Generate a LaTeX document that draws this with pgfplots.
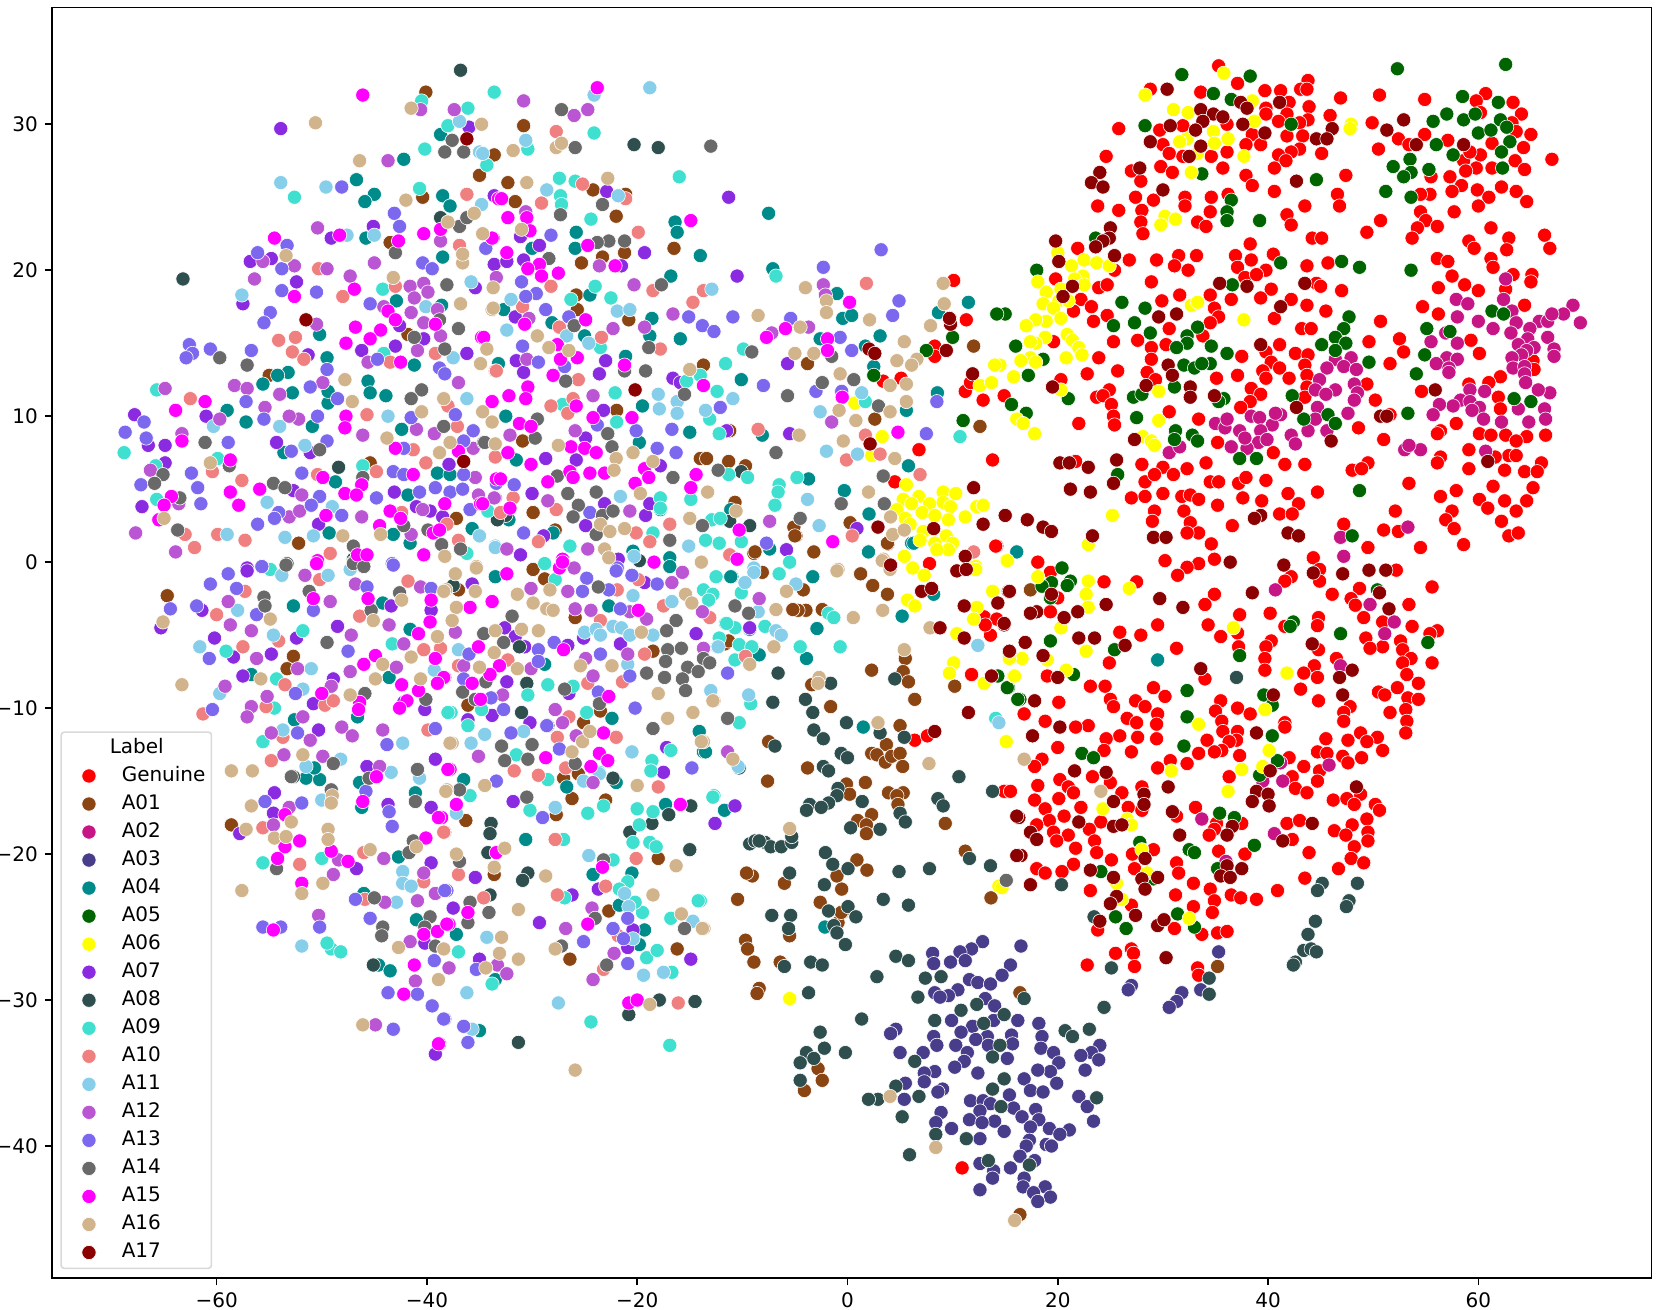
\documentclass[border=0pt]{standalone}
\usepackage{fontspec}
\setmainfont{DejaVu Sans}
\usepackage{pgfplots}
\pgfplotsset{compat=1.18}
\definecolor{cA01}{HTML}{8B4513}
\definecolor{cA02}{HTML}{C71585}
\definecolor{cA03}{HTML}{483D8B}
\definecolor{cA04}{HTML}{008B8B}
\definecolor{cA05}{HTML}{006400}
\definecolor{cA06}{HTML}{FFFF00}
\definecolor{cA07}{HTML}{8A2BE2}
\definecolor{cA08}{HTML}{2F4F4F}
\definecolor{cA09}{HTML}{40E0D0}
\definecolor{cA10}{HTML}{F08080}
\definecolor{cA11}{HTML}{87CEEB}
\definecolor{cA12}{HTML}{BA55D3}
\definecolor{cA13}{HTML}{7B68EE}
\definecolor{cA14}{HTML}{696969}
\definecolor{cA15}{HTML}{FF00FF}
\definecolor{cA16}{HTML}{D2B48C}
\definecolor{cA17}{HTML}{8B0000}
\pgfplotsset{pts/.style={only marks,mark=*,mark size=3.55pt,mark options={fill=#1,draw=white,line width=0.3pt,fill opacity=1,draw opacity=1}}}
\begin{document}
\begin{tikzpicture}
\path[use as bounding box] (-26pt,-15.7pt) rectangle (804.75pt,639.25pt);
\begin{axis}[scale only axis,width=800pt,height=635.5pt,
xmin=-75.66,xmax=76.47,ymin=-49.05,ymax=38,
axis line style={line width=0.8pt},
xtick={-60,-40,-20,0,20,40,60},xticklabels={−60,−40,−20,0,20,40,60},
ytick={-40,-30,-20,-10,0,10,20,30},yticklabels={−40,−30,−20,−10,0,10,20,30},
tick align=outside,tick pos=left,major tick length=3.5pt,tick style={line width=0.8pt,black},
tick label style={font=\fontsize{10}{12}\selectfont},
legend cell align=left,
legend style={at={(4.2pt,4.5pt)},anchor=south west,draw=black!15,line width=0.8pt,rounded corners=1.5pt,fill=white,fill opacity=0.8,text opacity=1,draw opacity=1,font=\fontsize{10}{12}\selectfont,inner xsep=3pt,inner ysep=3pt,row sep=4.22pt,nodes={inner sep=0pt,text height=7.6pt,text depth=2.2pt}},
legend image code/.code={\path (0pt,0pt) (26.5pt,0pt); \path[#1] plot coordinates {(10.5pt,0pt)};}
]
\addlegendimage{empty legend}\addlegendentry{\hspace*{-6pt}Label}
\addplot[pts=red] table {
x y
35.3 34
37.1 32.8
28.8 32.4
33.6 32.2
39.7 32.3
41.2 32.3
43.8 33
43.1 32.4
43.7 32.4
46.9 31.8
50.6 32
54.9 31.7
60.7 32.1
59.8 31.6
63.3 31.5
42 31.5
43.9 31.2
39.8 31.1
41.8 30.7
45.9 30.6
41 30.2
43.8 30.3
43 30.1
39.8 30.7
49.9 30.1
64.1 30.7
60.2 30.8
25.8 29.7
29.7 29.6
31.9 29.9
36.1 30
63.2 30.1
63.6 29.5
65 29.3
54.9 29.3
52.4 29
41.8 29.2
43.3 29.2
38.5 29.3
57.1 28.9
53.4 28.6
61.3 28.7
30 28.6
37.9 28.6
39.3 28.6
64.3 28.4
43 28.3
42.2 28.1
45.1 28
41 27.9
36.1 28.1
30.6 28
31.9 27.8
34.6 27.8
50.5 28.3
58.6 27.5
60.2 27.9
59.2 28.1
24.6 27.8
63.5 27.5
67 27.6
41.7 27.5
40.6 27
35.7 27
29.8 27.1
59.8 27
61.3 27
64.4 26.9
58.8 26.8
27 26.8
30.9 26.7
37.9 26.5
47.4 26.5
55.5 26.4
57.3 26.4
27.9 26.1
58.4 25.8
38.5 25.8
62.2 25.7
59.9 25.5
57.5 25.4
55.4 25.2
54.5 25.2
63.6 25.4
40.6 25.4
27.4 25
29.1 24.8
34.6 25
36.2 25.2
61 25
46.6 25.2
32.1 25
32.1 24.4
43.5 24.4
64.6 24.7
23.8 24.4
25.8 24.1
46.8 24.4
28 24.1
60 24.4
34.5 24
41.8 23.8
57.7 24
54.5 24
55 23.4
27.9 23.3
33.3 23.3
50.7 23.4
56.1 23
42.2 23.1
34.1 23
61.2 22.9
28.1 22.5
49.4 22.6
54.2 22.9
53.7 22.2
44.2 22.2
45.1 22.2
62.9 22.2
66.3 22.4
59.1 22
59.6 21.5
66.8 21.5
62.7 21.4
38.3 21.8
21.9 21.5
26.8 20.7
29.4 20.7
31.5 21
33.2 21
36.9 21
40.5 21.1
56.1 20.8
57.1 20.6
61.2 20.8
31.1 20.3
38.4 20.7
37.1 20.2
43.7 20.3
45.7 20.5
32.4 20
61.4 20.2
25.4 20
39.8 20
37.8 19.5
57.5 19.6
63.3 19.7
65.1 19.7
65 19.2
19.8 19.4
28.9 19.2
38.9 19.7
58.7 19
56.2 18.8
44.6 19.1
45 18.9
40.3 18.7
23.9 18.8
24.7 19
60 18.6
62.6 18.7
47 18.6
31.6 18.3
34.5 18.3
36.5 18
39.3 18.1
22.2 18
29.9 17.9
42.2 18
43.7 17.6
54.7 17.5
23.2 17.5
34.9 17.4
64.4 17.6
21.5 17.2
45.5 17.2
56.2 17
40.6 16.7
24.7 16.9
23.4 16.5
35.3 16.8
34.5 16.4
50.7 16.5
43.2 16
44.1 16
30.6 16
19.6 15.1
25.3 15.1
27.6 15.2
52.5 15.3
49.6 15.1
59.3 15.2
28.9 14.7
30.3 14.9
33.8 15.5
41.1 14.9
39.8 14.4
42.6 14.3
43.8 14.2
52.9 14.4
37.5 14.1
60.1 14.3
28.9 13.9
23.9 14
40.3 13.7
43.5 13.5
51.6 13.6
41.1 13.3
65.2 13.8
39.5 13.1
43.7 12.8
65.3 13.2
28.5 13
22.8 12.9
25.7 13.1
37.1 12.8
35.1 12.6
39.8 12.6
42 12.6
62.1 12.7
20.3 12.5
61 12.3
29.3 12.5
43.7 12
49.4 12.2
38.4 11.9
24.9 11.8
59.1 12.2
54.6 11.7
14.9 11.4
39.3 11.5
61.9 11.3
23.7 11.3
24.3 11.4
50.2 11.1
38.3 11
43.5 11.3
25.1 10.8
62.1 10.5
37.4 10.6
30.6 10.3
51.6 10.1
33.4 9.8
25.3 10
25.4 9.4
22 9.5
48.6 9.2
57.9 9.5
56.4 9
60.1 8.8
61.2 8.7
62.6 8.7
66.4 8.7
64.6 8.6
56.1 8.8
51 8.4
63.6 8.3
59.1 7.7
35.2 8.2
40.5 7.5
56.4 7.2
62.9 7.3
63.6 7.3
56.1 6.8
61.6 7.2
66 6.8
28 6.7
34.1 6.8
41.6 6.7
43.5 6.7
21.7 6.9
30 6.5
32.3 6.4
49.5 6.8
59.1 6.4
62.5 6.3
64.4 6.2
65.6 6.2
48 6.3
48.9 6.4
31 6
28.3 5.5
29.2 6
34.5 5.5
35.3 5.5
37.2 5.4
37.9 5.8
39.8 5.6
53.4 5.4
61.4 5.2
44.7 4.8
57.9 4.9
65.2 5.1
27 4.4
28.3 4.5
30 4.7
31.8 4.5
32.6 4.6
41.9 4.7
56.4 4.5
33.4 4.3
37.6 4.4
60.1 4.3
62.5 4.2
42.9 4
64.6 4.2
39.4 4.2
35.2 3.9
32 3.5
29.2 3.5
57.5 3.5
63.6 3.5
52.1 3.5
41.1 3.3
42.3 3.3
60.9 3.7
29 2.8
36.6 2.5
56.9 2.9
62.2 2.8
32.6 2.7
47.2 2.6
57.7 2.3
51 2.2
52.4 2.1
33.4 2
32.3 2
62.9 1.8
63.8 2
49.5 1
54.5 1
58.6 1.2
34.6 1.25
18.1 0
30.2 .1
34.9 .2
33.4 -.1
32.3 -.35
31.4 -.9
44.3 .3
44.9 -.5
52.2 -.55
42.2 -1
44.9 -1.3
27.5 -1.35
24.4 -1.35
19.3 -.7
41.6 -1.3
55.6 -1.7
48.7 -1.8
46.1 -2.2
34.9 -2.2
20 -2.45
47.9 -2.5
48.3 -2.95
53.4 -2.9
34 -2.9
37.3 -3.6
40.2 -3.5
19.3 -3.4
44.8 -3.8
49.1 -3.8
50.9 -4.1
44.7 -4.35
34.3 -4.3
29.5 -4.3
53.7 -4.4
56.1 -4.7
55.4 -4.9
25.9 -4.8
27.9 -5
37.1 -4.85
41.6 -4.4
35.5 -5.1
49.3 -5.2
52.6 -5.4
40.3 -5.4
39.8 -5.8
50.9 -5.8
52.8 -6
49.7 -5.9
37.2 -5.8
44.8 -6
31.3 -5.9
39.7 -6.6
53.6 -6.6
46.5 -6.6
24.9 -6.9
52.8 -6.9
55.6 -6.9
39.7 -7.4
44.4 -7.1
43.4 -7.6
53.2 -7.7
44.7 -7.9
19 -7.8
34 -8
54.3 -8.3
23.1 -8.5
24.5 -8.5
29.1 -8.6
43.1 -8.7
52.3 -8.6
50.5 -8.9
30.2 -9.2
51.1 -9.1
53.3 -9.3
54.3 -9.4
25 -9.4
44.8 -9.5
20.1 -9.6
35.5 -9.5
27.4 -9.5
37.1 -10
28.3 -9.9
25.3 -9.9
47.8 -9.9
35 -10.2
53.1 -10.1
51.6 -10.3
38.3 -10.4
47.2 -10.3
16.8 -10.4
29.5 -10.4
26.6 -10.7
35.6 -10.9
18.8 -10.9
47.2 -10.9
41.6 -11
53.2 -10.9
27.5 -11
29.4 -11.1
22.9 -11.2
21.7 -11.3
41.6 -11.3
35.7 -11.6
37.1 -11.6
53.1 -11.7
25.9 -11.9
27.6 -12
29.4 -12.1
45.5 -12.1
48.8 -11.7
50.4 -12
34.2 -12.2
37 -12.2
36.3 -12.3
24.6 -12.1
49.4 -12.3
47.6 -12.2
20 -12.7
24.4 -12.9
27 -13
33.4 -13.1
35.6 -12.9
34.9 -13
50.9 -12.9
44.7 -13
45.6 -13.1
37.3 -13.25
47.1 -13.3
48.9 -13.4
18.5 -13.5
42 -13.4
47.6 -13.75
30.7 -13.6
32.3 -13.8
17.8 -14
29.5 -14.1
43.4 -14
44.9 -14.3
36.3 -14.7
23.3 -14.7
20.2 -14.9
25 -15.1
42.3 -14.7
44.7 -15
18.1 -15.3
28 -15.4
21 -15.4
42.6 -15.5
15.1 -15.7
21.5 -15.8
26.1 -15.8
43.7 -15.8
20.1 -16.2
17.8 -16.3
46.2 -16.3
47.5 -16.2
48.8 -15.9
48.2 -16.6
26.7 -16.8
50.2 -16.6
18.8 -16.9
33.1 -16.8
22.2 -16.8
50.6 -17
28 -17
20.6 -17.4
49.4 -17.6
31.3 -17.4
19.2 -17.7
24.1 -17.8
37.5 -17.9
41.8 -17.9
43 -17.7
18 -18
35.1 -17.9
48 -18
23 -18.3
19.6 -18.5
46.3 -18.4
49.5 -18.5
34.9 -18.3
21 -18.7
47.4 -18.7
34.4 -18.7
42.3 -19
19.9 -19.1
23.5 -19.1
49.5 -19.1
48.2 -19.5
21.7 -19.6
29.1 -19.7
23.7 -19.9
43.9 -19.9
35.3 -19.8
37.8 -20
27.1 -20
25.1 -20.4
47.9 -20.3
31.3 -20.6
21.5 -20.7
49.1 -20.6
27.3 -21
18 -21
20.4 -21.2
18.8 -21.3
31.5 -21.3
46.7 -21
43.5 -21.65
32.9 -22
34.5 -22.4
23.1 -22.5
40.9 -22.5
36.5 -22.8
31.2 -22.8
37.4 -23
38.9 -23.1
34.9 -23.2
32.9 -23.6
27 -23.5
34.7 -24
31.1 -25.1
23.8 -25.2
33.7 -25.5
35.2 -25.4
36.1 -25.3
27 -26.5
25.5 -26.8
27.2 -26.8
27.3 -27.7
22.8 -27.6
33.3 -27.8
33.4 -28.3
14.2 1.1
11.8 -7.7
6.4 -12.2
7.6 -11.9
14.9 -15.7
15.5 -15.7
6.8 7.7
13.8 7
4.5 5.5
12.9 11.1
11.2 11.7
11.7 12.3
8.3 14.8
8.3 14.1
5.1 12.6
3.4 12.4
10.1 19.3
9.75 16.7
11.3 16.6
14.1 1.1
7.8 -.1
13 -3.75
13.6 -5
14.2 -3.9
13.1 -4.3
10.9 -41.5
};\addlegendentry{Genuine}
\addplot[pts=cA01] table {
x y
-3.2 .7
-8.9 .6
-4.9 1.8
-8.1 -.7
-4.2 -1.9
1.25 -.8
2.4 -1.6
3.8 -2.2
3.85 1.25
-3.95 -3.3
-4.7 -3.3
-5.2 -3.25
-2.4 -3.25
10.2 -8.5
5.5 -6.6
2.3 -7.4
5.3 -7.5
5.8 -8.2
6.4 -9.4
-3.4 -8.4
-1.6 -9.9
-11.65 -5.6
-11.3 -5.4
5 -11.2
3.7 -12.5
2.3 -13.1
2.8 -13.2
3.6 -13.7
4.2 -13.3
5 -13.1
5.25 -14
-7.5 -12.3
-3.8 -14.1
-7.6 -15
1.7 -15.1
-.1 -15.2
.2 -15.9
3.9 -15.8
5.3 -15.8
4.7 -16
4.8 -16.6
2.3 -17.3
.97 -17.7
1.8 -18
1.8 -18.6
9.3 -17.9
11.2 -19.8
.9 -20.4
1.85 -21.1
-9.05 -21.5
-9.6 -21.3
-6 -22
-1 -21.5
-.55 -22.4
-2.6 -23.3
-.5 -24
-10.45 -23.1
13.65 -23
-.9 -24.7
-9.7 -25.9
-9.5 -26.5
-8.9 -27.4
-6.4 -27.4
-8.4 -29.2
-8.6 -29.55
-5.5 -25.6
16.4 -29.5
-2.8 -34.7
-2.4 -35.5
-4.1 -36.2
-.6 -24
16.4 -44.7
35.2 -27.7
17.4 -1.9
-64.7 -2.3
-58.6 -18
-52.7 -6.45
-53.3 -7.3
-40.1 32.2
-40.4 25
-35 26.5
-33.6 27.9
-52.2 1.3
-37.2 3
-55 12.8
-43.5 21.9
-41.8 15.6
-45.4 6.8
-30.8 29.9
-32.3 26
-31.6 24.7
-24.2 25.5
-22 23.7
-21.1 25.2
-16.5 21.5
-25.3 20.5
-23.3 20.9
-21.2 21.2
-25.8 18.3
-25.7 17.3
-20.8 16.6
12 14.8
12.6 9.3
-13.7 13.5
-8.8 .7
-5.1 2.4
-5 1.8
-11.2 9
-10.7 4.1
-14 7.1
-13.4 7.1
-11.3 6.9
-9.7 6.6
2.6 9.8
3.8 1.3
.25 2.7
-3.8 13.6
-29.9 3.4
-27.8 2.2
-21.95 10.4
-30.9 8.3
-25.9 -3.8
-29.9 -.5
-28.8 -1.15
-37 -1.9
-18.5 -6.1
-23.5 -10.2
-36.1 -9.8
-25.1 -11
-27 -14.8
-25.6 -14.5
-26.2 -16.2
-23 -16.3
-27.7 -17.3
-36.3 -17.7
-22.7 -23.9
-26.4 -27.2
-16.2 -26.5
-18 -20.3
-33.6 -21.4
};\addlegendentry{A01}
\addplot[pts=cA02] table {
x y
62.6 19.4
57.9 18
59 17.7
62.4 18
58 16.8
60 16.5
63.2 17.2
63.6 16.4
65.8 16.5
66.6 16.5
69 17.6
68.1 17
69.7 16.4
67 17
61.4 16
63.1 15.7
64.9 16
66.6 15.4
64.7 15.3
56.9 15.7
55.5 15.1
58 15
63.8 14.9
65.3 14.7
64.6 14.5
67.2 14.6
64.1 14.2
67.2 14.1
63.2 14
57 14
56 13.6
58 13.9
57.2 13.3
57.2 13
63.3 13.3
64.4 13.4
64.4 12.9
64.5 12.3
59.2 11.8
60.6 11.7
66.8 11.6
65.7 11.8
58.3 11.1
59.2 11
60.1 10.6
57.6 10.7
56.3 10.8
55.7 10.1
59.4 10.4
60.5 9.8
63.8 10.5
66.3 10.5
62.2 9.6
64.8 9.6
66.4 9.8
60.7 7.6
47.9 14
46.4 13.9
45.6 13.3
47.2 13.4
48.4 13.2
44.9 12.5
48.2 12.2
44.5 11.8
46.4 11.8
45.5 11.5
48.5 11.6
48.2 11.1
44.7 10.6
47.6 10.2
44.5 9.8
45.6 9
35 9.5
35.9 9.2
37.3 9
36.1 9.8
38.4 10
39.2 9.9
41.2 10.1
40.4 9.4
39.3 9
42.2 8.7
43.8 9
42.6 8.1
40.7 10.2
39.1 8.2
38 7.8
36.5 7.9
37.8 8.5
39.9 8.4
30.6 7.5
31.6 7.9
53 7.7
54.5 7.7
53.4 8
53.3 2.4
46.9 1.7
46.9 1.7
47.2 .4
40.7 -1.9
49.7 -2.9
52 -4.1
51.1 -4.9
46.9 -7.1
45.8 -13.9
41.2 -13.75
41.4 -15
39.5 -15
33.7 -17.6
40.6 -18.6
36 -20.5
};\addlegendentry{A02}
\addplot[pts=cA03] table {
x y
12.85 -26
16.5 -26.3
11.8 -26.5
10.7 -26.7
8.1 -26.8
8.2 -27.5
9.8 -27.4
11.2 -27.3
15.5 -27.6
14.7 -28.3
11.6 -28.6
12.4 -28.8
13.6 -28.9
10.5 -29.3
9.6 -29.7
8.3 -29.5
8.8 -29.8
13.1 -29.9
14 -30.4
9.9 -31.4
16.2 -31.4
13.9 -31.4
11.9 -31.8
18.2 -31.6
4.6 -32
4.1 -32.3
10.8 -32.2
8.2 -32.5
15.6 -32.4
13.3 -32.5
18.5 -32.5
12.2 -32.7
10.3 -33.1
8.5 -33.1
15.7 -33
13.4 -33.1
24 -33.1
18.4 -33.3
5 -33.6
7.2 -33.6
11.4 -33.6
19.6 -33.6
23.2 -33.6
22.2 -33.8
11.1 -34.2
15.2 -34
23.9 -34.1
20.1 -34.3
10.2 -34.6
8.3 -34.9
12.4 -35
19.3 -34.9
18.1 -34.8
22.6 -34.8
7.3 -35
16.8 -35.4
7.3 -35.6
5.5 -35.7
19.9 -35.7
17.4 -36.2
18.6 -36.3
9.05 -36.1
8.6 -36.3
15.4 -36.5
5.4 -36.8
22 -36.6
11.7 -36.9
12.9 -36.9
13.6 -37.1
22.8 -37.3
15.8 -37.4
12.6 -37.6
17.9 -37.5
8.9 -37.7
16.6 -38
11.6 -38.2
14 -38.3
12.8 -38.4
8.4 -38.4
23.4 -38.3
18.2 -38.2
9.9 -38.8
17.4 -38.7
19.2 -38.8
21.1 -38.9
20.2 -39.2
14.9 -39
12.6 -39.5
17.3 -39.6
18.9 -39.9
19.4 -40
17 -40
16.4 -40.7
17.8 -41
12.6 -41.2
15.5 -41.5
13.9 -41.7
13.8 -42.2
16.8 -42.2
16.7 -42.8
12.6 -43
18.8 -42.8
17.7 -43.2
19.3 -43.5
18.1 -43.8
27 -29
26.7 -29.3
31.8 -29.5
31.3 -30.1
30.6 -30.5
33.6 -29.3
35.3 -26.7
};\addlegendentry{A03}
\addplot[pts=cA04] table {
x y
-42.2 27.6
-46.7 26.2
-45 25.2
-45.9 24.7
-38.7 29.3
-38.5 25.1
-37.8 24.4
-38.5 20.9
-45.8 22.2
-42.9 17.9
-38.6 17.6
-50.2 15.6
-49.5 14
-41.2 13.5
-53.2 13
-54.2 12.8
-55.6 12.2
-45.6 12.4
-45.4 11.6
-43.9 11.4
-52.8 11.6
-49.4 10.9
-49.4 11.7
-59 10.4
-57.2 9.6
-50.9 9.3
-42.4 9.1
-53.6 7.5
-39 6.1
-37.8 6
-48.7 5.5
-41.8 4.6
-43.2 1.9
-49.3 2
-41.6 1.3
-35.7 2.3
-16.4 23.3
-16.2 22.6
-14 21
-16.8 19.6
-7.5 23.9
-25.8 22.6
-25.9 21.5
-30 21.5
-24.5 18.3
-32.7 17.3
-18.6 16.7
-18.8 15.5
-15.9 15.3
-28.1 16.4
-25 15.5
-21.1 14.1
-33.2 13.6
-10.1 12.5
-7.1 20.1
-1 18.4
-.45 16.7
.4 16.9
3.1 15.5
1.7 14.8
-2.6 15.3
8.65 17.1
11.5 17.8
2.5 13.4
8.55 11.6
5.6 10.4
-19.5 10.7
-32.5 10
-15 8.9
-19.8 8.2
-8.1 8.7
-31.5 7
5.8 6.6
-3.7 5.7
-.3 4.9
-28 2
-32.2 2.9
2.05 3.3
2 .7
-16.9 .3
-11.1 3.6
-17.8 3.6
6.1 1.3
-20.4 .75
-33.5 -1
-22.7 -3
-16.9 -.3
-11 -1
-9.3 -4.6
-28.8 -7
-26.7 -15.4
-22 -15.1
-36.5 -14.9
-22.4 -10.7
-13.7 -13
-14.1 -11.6
-17.3 -16.6
-30.6 -19
-24.2 -21.4
-21.7 -23.5
-37.2 -25.5
-20.5 -21.3
-19.8 -26.2
-19.3 -25.2
-33.5 -28.6
-35 -32.1
-11.7 -17
-52.7 -3
-41.6 -4.6
-43.6 -7.9
-44.2 -2.8
-46.6 -10.6
-52.6 -10.8
-56.7 -7.7
-51.5 -14.8
-50.2 -14.9
-50.7 -14.1
-41 -24.5
-44.6 -27.6
-43.5 -28
-46 -22.7
-41.1 -15.8
-42.7 -20.2
-46.4 -15.1
-46.2 -16.8
2 .7
5.2 -3.7
8.2 -2.2
-2.9 -4.55
-3.9 -6.6
-8.4 -6.35
-3.3 -1
-11.1 -1
-7.4 .9
1.5 -11.3
-2.15 -25
-13.5 -13
6.3 1.3
16.1 .7
29.5 -6.7
};\addlegendentry{A04}
\addplot[pts=cA05] table {
x y
31.8 33.4
38.3 33.3
52.3 33.8
62.6 34.1
34.8 32.1
36.5 31.7
28.3 29.9
42.2 30
58.5 31.9
61.9 31.5
57 30.7
55.7 30.2
58.6 30.3
59.7 30.7
60 29.4
61.2 29.6
62.1 30.3
62.7 29.8
63 28.8
62.2 28.1
62.3 27
57.6 27.9
56 28.6
53.5 27.6
51.9 27.1
53.6 26.7
55.3 26.9
52.9 26.4
33.7 26.6
44.6 26.2
51.2 25.4
53.6 25
36.5 24.8
36.1 24
36.1 23.4
39.2 23.4
23.6 22.2
18 20
41.2 20.5
47 20.6
48.7 20.2
53.6 20
36.6 19
26.1 17.8
28.3 17.4
15 17
25.3 16.2
27.3 16.4
33.3 16.1
28.8 15.7
32.3 15.5
32.3 15
31.3 14.7
34.6 14.8
36.1 14.3
47.7 16.8
47.2 16
46.4 15.4
47.4 15
45.1 14.9
46.4 14.5
49.6 13.7
61.3 17.2
62.4 17
55.1 16
57.3 15.8
54.9 14.2
54.1 12.9
16 14.8
18.6 13.9
17.2 12.8
32 13.5
33 13.3
34.5 13.6
33.7 13.6
31.1 12
27.2 11.3
28 11.5
21 11.2
15.6 10.8
17 10.2
42.3 11.4
35.8 11.2
35.3 11
27.5 9.9
63.4 11.2
65 11
53.3 10.2
45.7 10.1
43.4 9.8
46.4 9.5
31.2 9
32.8 8.7
33.3 8.3
31.1 8.4
37.3 7.1
38.9 7.1
25.7 6
48.7 4.9
48 1.8
20.4 -.4
19.4 -1.4
21.2 -1.3
20.9 -1.6
19.3 -2.45
18.5 -1.65
42.4 -4.1
42.1 -4.4
46.9 -4.9
50.4 -1.9
55.2 -5.5
19.3 -5.4
25.4 -6
37.3 -6.4
21.5 -7.7
15.3 -8.6
16.4 -9.4
32.3 -8.8
39.6 -9.1
40.4 -9.8
32.3 -10.6
32 -12.6
40.4 -11.9
22.3 -13.1
23.4 -13.4
40.9 -13.6
39.2 -14.6
35.4 -17.2
36.8 -17.5
38.7 -19.4
32.5 -19.7
33 -19.9
27.8 -19.2
35.2 -21
24.1 -21.2
29.1 -21.7
25.5 -24.3
26.5 -25.1
31.4 -24.1
33 -25
10 15.4
7.5 14.5
11 9.7
2.5 12.8
14.2 17
15.2 -8.6
16.2 -9.4
14.3 -7.8
};\addlegendentry{A05}
\addplot[pts=cA06] table {
x y
35.8 33.5
28.3 32
31 31
32.4 30.8
38.5 31.6
38.7 30.2
47.9 30
47.8 29.7
34.8 29.5
32.3 29
31.6 28.8
34.9 28.7
36.2 29
33.3 28
37.7 27.8
32.7 26.7
30.2 23.7
31.2 23.5
29.8 23.1
20 21.2
22.5 20.7
21.3 20.3
23.7 20.5
24.9 20.3
22.4 19.6
21.6 19.4
18.1 19.2
18.9 18.5
20.3 18.7
20.1 17.9
18.6 17.7
19.6 17.4
21 17.9
22.5 19
20.3 16.7
18.9 16.5
17.9 16.6
17 16.2
18.8 15.4
17.9 15
17.4 15.1
20.9 15.6
21.4 15.2
22 14.7
22.3 14.2
20.8 14
17.4 14
16.5 13.8
17.9 13.7
15.8 12.7
14.5 13.5
20.3 11.8
16.1 9.8
16.7 9.5
17.8 8.8
32.7 17.6
33.3 17.8
37.7 16.6
29.6 9.7
29.6 11.7
28.1 8.6
28.9 8.3
29.2 8
25.2 3.2
5.6 5.3
9.1 4.8
10.3 4.7
5.3 4.3
6.8 4.5
6.1 4
7.8 4
9.1 4.1
9.8 3.8
12.3 3.8
12.9 3.9
4.7 3.6
7.1 3.4
8.3 3.2
9.6 2.9
11.2 3.1
5.5 3
5.95 2.6
7.2 2.1
9.4 1.8
6.9 1.5
8.3 1.3
10 1.3
9.6 .85
8.5 .85
5.4 .4
6.2 -.4
12.2 -.3
14 13.5
12.6 12.1
13.7 12.3
.7 10.9
3.3 8.6
2.3 7.3
7.3 -.9
5.7 -2.6
6.4 -3
13.8 -2
12.3 -3.1
12 -3.9
15.1 .1
12.2 -.5
10.4 -4.9
10.1 -6.9
9.7 -7.6
13 -8.3
15.8 -7.8
15.1 -12.3
14.4 -22.2
-5.5 -29.9
15.2 .1
18.1 -1
22.9 1.2
22.9 -1.3
22.7 -2.2
22.9 -3.1
26.8 -1.8
20.3 -4.5
22.7 -6.1
16.6 -6.6
15.4 -6.6
19 -6.7
20.8 -7.4
15.9 -7.8
36.7 -4.5
41.8 -7.6
33.4 -11.1
39.7 -10.1
40.1 -12.9
15.1 -12.3
30.8 -14.3
37.5 -14.2
39.5 -14
36.2 -15.7
24.3 -16.9
26.6 -17.6
27 -18
28 -19.7
28.5 -21.3
25.6 -22
26.1 -23.1
32.5 -24.4
14.7 -22.3
};\addlegendentry{A06}
\addplot[pts=cA07] table {
x y
-53.9 29.7
-36 29.8
-33.6 25.1
-35.4 18.8
-33.6 20.4
-56.8 20.6
-54.8 20.8
-52.4 19.2
-57.5 17.7
-49.1 22.2
-45.1 23
-36.2 14.3
-46.2 14.5
-40.3 15.3
-43 14.8
-51.3 14.2
-42.6 16.2
-61 10
-67.8 10.1
-66.5 8
-64.9 8
-54.3 8.2
-64.9 6.8
-37.9 6.7
-43.1 4.8
-52.7 4.9
-46.7 4.6
-67.1 3.8
-41 3.8
-39.7 3.5
-38.5 3.1
-50.3 2.6
-57.1 -.4
-51.1 7.5
-11.3 25
-31.1 22.3
-19.3 21.2
-10.5 19.6
-22.9 25.4
-29.3 21.7
-32.4 20.6
-30.8 20.7
-21.5 20.3
-31.6 16.8
-31.5 13.8
-30.8 13
-23 13.8
-23.6 12.9
-23.2 10.4
-5.7 13.6
-5.5 8.8
-11.5 9
-16.6 12.6
-15.9 12.3
-5.8 .85
.9 2.3
-28.7 7.1
-24.9 8.5
-25.8 7
-30 4.7
-23.1 4
-19.2 3.2
-24.9 2.5
-18.8 4
-31.1 .5
-28.9 1.8
-17.8 6.6
-21.8 .2
-57.1 -.6
-65.3 -4.5
-61.4 -3.3
-60.2 -5.2
-58.4 -6.5
-54.8 -6.3
-52.4 -5.2
-57.5 -7.8
-48.5 -4.4
-43.4 -3
-48.9 -8
-50.8 -9.7
-50.3 -11.5
-54.5 -15.8
-54.6 -17.2
-57.8 -18.6
-45.7 -14
-43.7 -16.6
-39.6 -16.8
-39.2 -13.5
-40.2 -10.1
-39.6 -3.3
-39.6 -20.6
-46.7 -21
-39.2 -33.7
-40.2 -26.1
-42.2 -9.6
-35.7 -1.5
-32.6 -4.5
-30.7 -5.8
-31.6 -5.1
-26.6 -5.7
-25.1 -5.2
-21.6 -5.6
-19.3 -1.4
-14.4 -4.9
-9.3 -4.5
-32.4 -8.2
-33.8 -10.5
-36.1 -10.8
-30.2 -11
-26.5 -9
-17.2 -12.7
-17.5 -14.4
-31.8 -16.4
-10.7 -16.7
-12.6 -17.9
-35.4 -21.6
-26.2 -22.8
-23.7 -22.4
-37.5 -23.7
-29.3 -24.7
-20.4 -25.2
-20.9 -26.4
-14.9 -27.2
-35 -27.2
};\addlegendentry{A07}
\addplot[pts=cA08] table {
x y
-1.6 -8.3
-4 -9.4
-3.3 -10.3
-.1 -11
-3.2 -11.5
-2.3 -12.1
3.1 -11.7
5.4 -12
4.5 -8
-6.6 -7.6
-7.1 -9.6
-6.9 -12.6
-.6 -13.1
0 -13.4
-2.3 -14
-1.8 -14.3
-10.3 -14.1
10.6 -14.7
13.8 -15.7
-.9 -15.5
-1 -16
-1.8 -16.5
-3.6 -16.6
-3.9 -17
-2.5 -16.8
1.4 -16.4
5 -17.2
5.5 -17.8
.3 -18.2
3.1 -18.3
8.6 -16.2
9.1 -16.7
-9.3 -19.3
-7.85 -19.2
-7.3 -19.5
-6.3 -19.5
-5.3 -19.2
-5.3 -18.8
-2.1 -19.9
-1.4 -20.7
.05 -21
-5.5 -21.3
-2.2 -22.1
4.9 -21.2
7.8 -21
11.6 -20.3
13.6 -20.8
3.4 -23.1
5.8 -23.5
.05 -23.6
.8 -24.3
-1.8 -23.9
-1.3 -24.9
-1 -25.4
-.2 -26.2
-7.2 -24.2
-5.4 -24.2
-5.6 -25.1
-6 -27.7
-3.5 -27.4
-2.4 -27.6
4.6 -27
5.8 -27.3
2.8 -28.4
-3.7 -29.5
1.35 -31.3
6.7 -29.8
7.4 -28.5
8.9 -28.4
8.3 -31.4
10.8 -30.7
12.3 -30.3
12.95 -31.6
14.9 -31
14.5 -33.1
13.8 -33.9
6.4 -34.2
14.9 -35.4
13.8 -36.1
14.6 -37.3
23.7 -36.7
4.6 -35.9
2.9 -36.8
2 -36.8
6.8 -36.6
5.2 -38
8.4 -39.2
11.3 -39.5
5.9 -40.6
13.4 -41
17.3 -41.3
20.7 -32.1
21.4 -32.5
23 -32
24.4 -30.5
-.2 -33.6
-2.2 -33.3
-2.6 -32.2
-3.9 -33.6
-3.2 -34
-4.5 -34.3
-4.5 -35.5
45.15 -22
44.7 -22.5
48.5 -22
47.7 -23.2
47.45 -23.6
44.5 -24.6
43.8 -25.5
43.4 -26.6
44.1 -26.5
44.6 -26.7
42.6 -27.4
42.4 -27.6
37 -7.9
25.1 -27.8
34.4 -28.5
34.4 -29.6
16.8 -29.9
24.4 -30.5
20.35 -22.1
23.45 -24.3
-63.2 19.4
-36.8 33.7
-20.3 28.6
-18 28.4
-38.7 23.6
-48.4 6.5
-47 0.2
-10.1 6.2
-32.5 3.2
-33.3 2.9
-19.8 .1
-11.2 2.8
-9.3 2.5
-31 -10.3
-31.2 -5.8
-30.5 -8.3
-28.5 -11.2
-37.5 -1.6
-22.3 -14.8
-33.9 -17.9
-34 -18.6
-34.2 -19.9
-30.4 -21.3
-30.9 -21.8
-34 -22.8
-20.7 -18.5
-18.6 -17.9
-17 -17.3
-15 -19.7
-14.9 -16.7
-8.8 -19.1
-8.4 -19.1
-17.9 -30
-20.8 -31
-14.5 -30.1
-31.3 -32.9
-52.7 -14.7
-45.1 -27.6
};\addlegendentry{A08}
\addplot[pts=cA09] table {
x y
-33.6 32.2
-36.1 31.1
-40.5 31.6
-38 29.9
-40.2 28.3
-34.3 27.2
-40.7 25.6
-52.6 25
-44.2 18.7
-44.1 14.3
-65.7 11.8
-68.8 7.5
-59.9 7.1
-65.8 6.6
-46.1 6.6
-65.7 4.3
-36.2 .6
-34.2 3.5
-24.1 29.4
-16 26.4
-27.4 26.3
-27.3 25.1
-27.2 24.5
-24.4 23.5
-30.4 28.3
-25.9 26.1
-24 18.9
-26.3 18
-22.5 18.1
-6.8 19.6
-11.6 13.6
-9.9 14.6
-23.5 14.7
-15.3 12.4
-14 12.8
-12.4 11.7
-22.1 11.6
-21.95 9.6
-13.1 9.8
-12.2 8.8
-27.1 10.8
-17.8 4.4
-17.8 3.7
-14.9 4.3
-11.3 6
-9.5 5.8
-4.8 5.8
-6.5 5.3
-6.6 4.8
-6.9 3.9
1.7 11
10.7 8.6
-12.9 2.9
-12.1 3
-13.5 1.5
-12.2 1.3
-10.1 1.4
-5.5 0
-26.4 1.1
-18.5 2
-28.8 -.1
-12.5 -1
-13.7 -1.9
-10.1 -2.1
-12.8 -2.2
-13.2 -2.6
-1.8 -3.5
-1.3 -3.8
-11.6 -4.2
-10.7 -4.5
-7.85 -4.4
-12.2 -5.2
-10.3 -5.65
-9.1 -5.8
-10.7 -6.7
-4.5 -5.8
-.7 -5.8
-9.2 -9.7
-10.3 -11
-12.7 -16
14.1 -10.7
-6.5 -.8
-14 -23.2
-27.8 -1.2
-11.5 -4.2
-37.7 -10.3
-36.1 -11.2
-34.8 -10.1
-31.5 -13.2
-30.4 -9.1
-28.5 -8.4
-26.1 -8.5
-24.8 -10.3
-16.8 -12.9
-18.6 -13.6
-18.7 -14.3
-28.5 -14.9
-23.6 -14.4
-30.2 -17
-23.2 -16.7
-24.7 -17.2
-20 -16.9
-18.5 -17.1
-19.8 -18
-20.4 -19.2
-18.8 -19.2
-18.2 -19.5
-22.3 -20.4
-20.9 -21.9
-21.7 -22.4
-19.5 -24
-20.2 -23.3
-14.2 -23.2
-16.8 -24.4
-12.8 -16.1
-19.1 -27.1
-18.1 -26.6
-16.7 -28.1
-35.9 -16
-33.8 -28.9
-37 -26.7
-24.4 -31.5
-16.9 -33.1
-27 -19
-26.9 -23
-54.9 -.5
-43.3 -5.6
-51.8 -4.7
-59.1 -6.1
-54.3 -8
-54.5 -10
-55.6 -12.3
-50 -20.3
-55.6 -20.6
-49.1 -26.5
-48.2 -26.7
-49.5 -26.1
-38 -10.3
};\addlegendentry{A09}
\addplot[pts=cA10] table {
x y
-36.2 25.2
-36.9 21.7
-50.3 20.1
-48 18.2
-43 18.9
-54.1 15.2
-52.5 15.4
-52.8 14.4
-51.7 13.9
-62.5 11.2
-45.7 10.1
-41.3 7.7
-40.1 6.8
-57.6 5.6
-37.1 9.3
-44.8 6.2
-39.2 14.3
-43.5 13.7
-33.5 13.1
-60.4 6.2
-50.4 6
-59.9 1.9
-63 1.9
-62.1 1
-57.3 1.5
-49.2 .6
-38 10.7
-37 1.5
-42.4 3.4
-38.1 2.6
-27.7 29.5
-25.2 25.9
-29.1 24.6
-19.9 22.6
-21.1 24.9
-33.4 13.1
-18.5 18.6
-14.7 17.8
-13.7 18.6
-30.9 17.5
-28.2 18.9
1.8 19.1
-23.4 15.4
-27.4 16.1
-17.8 14.6
-25.6 12.5
-28.2 10.7
-26.6 10.2
-26.1 11.2
-8.5 9.1
1.7 8.7
-.1 7
3.1 7.4
6.9 6
-33.5 7.2
-27.7 3.6
-31.8 4.4
-33 3.4
-29.4 1.4
-18.8 1.4
-20.1 2
-16.9 2.6
.45 1.8
12 .7
-11.2 .5
-19.9 -1.2
-21.9 -1.9
-17.5 -3
-13.1 -3.8
-9.7 -6.45
-19.3 -6.3
-37 -7.1
-23.5 -4
-32.3 -6.7
-21.4 -8.2
-24.7 -8.3
-26.5 -10.6
-27.6 -12
-31.7 -14.3
-29.4 -14.6
-22 -12
-26.8 -14.1
-18 -15.4
-38.3 -18.5
-27.8 -19
-20.1 -20.3
-37 -21.4
-34.6 -23
-27.6 -22.8
-23 -22.2
-16.1 -30.2
-21.8 -25.6
-23.2 -27.9
-60 -3.6
-57.5 -5.8
-57.3 -2
-61.3 -10.4
-53.5 -8.4
-49.7 -9.8
-48.9 -9.5
-54.8 -13.6
-54.1 -5.4
-55.3 -9.9
-50.2 -1.2
-46.4 -3.7
-41.8 -1.3
-40.3 -6
-38.7 -5.9
-46 -19.9
-38.4 -18.5
-52.1 -20.7
-55.6 -18.2
-40.3 -21.9
-45.9 -23.1
-39.9 -11.5
-53.7 -12
};\addlegendentry{A10}
\addplot[pts=cA11] table {
x y
-36.9 30.2
-35 28.1
-53.9 26
-49.6 25.7
-34.8 24.5
-45 22.4
-35.8 19.2
-40.1 17.5
-37.5 14
-36.2 11.2
-57.6 18.3
-43.7 10
-54 9.3
-60.3 9.3
-51.6 8
-55.2 4.1
-59 1.9
-53.5 1.7
-50.8 1.8
-49 3.8
-35 1.8
-33.5 1.1
-47.6 22.4
-18.8 32.5
-24.1 32
-30.6 28.9
-34.7 28
-28.6 25.5
-21.8 25.1
-12.9 18.7
-32 18
-21.9 17.2
-20.7 17.3
-32.4 15.9
-24.6 15
-26.7 15.5
-18 11.5
-17.9 10.5
-16.2 11
-16.2 10.2
-10.9 11.2
-13.5 10.4
-2.6 10.3
1.35 11.6
-2 7.6
.95 7.4
-3.8 4.3
-2.7 2.5
-21.6 4.5
-15.1 1.1
-20.3 .4
-33.5 1
-8.9 -.4
-8.9 -.7
-9.75 -1.4
-4.9 -1.5
-8.5 -3.4
-6.8 -4.7
-6.3 -5
-12.4 -5.8
-13 -8.8
-9.4 -9.1
-10.4 -14
12.4 -5.7
14.4 -11
-20.4 -2.3
-25 -4.8
-23.9 -4.6
-22.3 -4.4
-21.5 -4.5
-20.7 -5
-18.5 -5
-23.5 -5
-16.7 -2.7
-12.3 -5.8
-37 -6
-34.5 -11.8
-35.8 -12.4
-30.8 -11.6
-20.9 -7
-20.5 -13
-25.1 -15
-23.6 -14.5
-27.8 -16.8
-37.2 -17.2
-24.6 -20.1
-21.2 -22.7
-20.8 -23.6
-34.3 -25.7
-14.7 -24.6
-20.4 -25.8
-17.5 -28.1
-19.4 -28.3
-36.2 -29.5
-27.5 -30.2
-35.7 -32
-49.4 -.9
-53.8 -.9
-58 -3.3
-54.6 -5
-61.6 -5.8
-51 -7.3
-51.8 -8.7
-59.7 -9
-53.7 -11.5
-42.3 -12.4
-51.5 -14
-48.2 -13.5
-43.4 -14.4
-40.7 -14.8
-50 -16.3
-42.3 -21.2
-42.3 -22
-41.5 -22.2
-51.9 -26.3
-42.9 -23.3
-47.3 -.5
-39.3 -7.4
};\addlegendentry{A11}
\addplot[pts=cA12] table {
x y
-40.6 31
-37.4 31
-43.7 27.5
-50.4 22.9
-55.6 20.6
-56.4 19.4
-52.6 20.3
-49.5 20.1
-47.3 19.6
-45 20.5
-41.6 18.9
-40.3 19.1
-41.2 18.1
-39.9 18.5
-41.5 17.1
-40.3 16.4
-39 17.3
-38.7 15.5
-38.7 22
-44.1 17.5
-50.5 16.3
-40.9 14.5
-37 12.3
-58.3 12.1
-57.1 11.9
-64.9 11.9
-54 11.5
-55.4 10.6
-59.7 9.8
-52.2 9.8
-53.1 10
-49.9 12.3
-45.6 13.7
-41 9.1
-39.3 8.8
-46.1 8.7
-66.3 6.3
-63.3 8.8
-63.6 4
-35.4 5.8
-35.6 7.8
-33.5 4.4
-51.9 4.6
-46.2 3.1
-53.1 3.1
-52.1 3.5
-40.4 3.6
-41.5 1.9
-67.7 2
-63.9 .7
-35.1 4.6
-30.8 31.6
-24.7 31
-26 30.6
-20.3 19
-19.3 16.1
-16.6 17
-30.3 16.7
-33.4 19.5
-2.3 19
-2.1 18.3
-3.7 16.1
-7.2 15.7
-22.3 16
-30.5 13.9
-24.2 11.4
-1.5 9.6
-25.9 9
-32.1 8.7
-7.4 2.8
-33.6 4.4
-28.5 4.2
-20.7 3.5
-24.7 .9
-32.4 .9
-26 -.4
-30.6 24
-23.6 20.3
-30.1 -1.8
-26.6 -2
-25.9 -3.2
-24.4 -3.3
-19.1 -3.9
-20.7 -3.4
-15.7 -.7
-16.7 -1.4
-13.8 -3.4
-8.4 -2.5
-13.7 -5.9
-20.9 -6.3
-37.3 -4.8
-36.5 -7.1
-32.8 -9.1
-30.1 -7.3
-24.9 -6.6
-24.2 -7.8
-27.8 -10.1
-27.1 -11
-25.8 -11.9
-35.1 -13.3
-24.2 -15.1
-11.4 -13
-37.9 -27.8
-33.3 -27.6
-32.4 -28.2
-26.8 -25.1
-24.3 -23.7
-22.2 -26.8
-24.2 -28.6
-51.6 -.9
-58.9 -2.7
-58.7 -4.3
-56.7 -4.7
-59.2 -8.5
-56.2 -6.6
-55.2 -9.2
-56.7 -9.9
-57.1 -10.6
-54.8 -11.7
-51.8 -10.6
-51.1 -12.2
-53.6 -13.2
-49.9 -13.3
-52.3 -7.3
-49.2 -2.7
-46.8 -1.5
-43.6 -4.3
-47.2 -5
-47.3 -7.5
-49.1 -8.5
-48.1 -11.3
-47.1 -11.9
-44.2 -11.5
-44.5 -14
-53.1 -16.8
-54.6 -18
-48.9 -21.4
-48.4 -20.4
-44.1 -20.3
-40.3 -21.3
-39.2 -22.7
-40.9 -23.2
-44 -23.3
-41.6 -26
-41.1 -28.7
-44.9 -31.7
-50.3 -24.2
-42.9 -7.2
-40.6 -1.7
-42.2 -5.6
};\addlegendentry{A12}
\addplot[pts=cA13] table {
x y
-48.1 25.7
-43.1 23.9
-42.6 23
-53.3 21.7
-56.1 21.2
-53.8 20.1
-40.4 20.5
-39.5 20.1
-53.8 18.6
-50.5 18.5
-45.4 17.7
-54.9 17.1
-55.5 16.4
-60.6 14.6
-56.7 14.5
-62.6 14.9
-62.3 14.3
-62.9 14
-44.7 13.9
-49.5 13.2
-38.8 13.3
-38.3 12.9
-51.1 12
-57.2 11
-48.5 11.2
-50.4 10
-55.5 9.8
-37.3 10.1
-41.5 9.9
-66.9 9.6
-68.7 8.9
-66.7 8.5
-58.9 8.2
-49.5 8.3
-52.9 7.6
-35.6 9
-36.5 8.3
-42.2 7.8
-62.4 6.1
-51.9 6.1
-43.2 6.2
-42.2 6
-36.5 6
-67.2 5.3
-61.8 5.1
-61.5 4
-40.7 4.8
-39.2 5.1
-37.8 4.8
-36.6 5
-50.2 4.5
-44.8 4.4
-51 3.9
-35.9 3.6
-48.1 3.2
-54.1 3.4
-56.1 2.6
-54.5 3
-43.3 -.1
-55.7 -.3
-33.4 5.4
-28.2 22.4
-34.4 21.5
-31 19.2
-29.6 18.4
-30.6 18.2
-28.7 17.3
-26.5 16.8
-15.1 16.8
-13.8 16.2
-12.7 15.8
-10.9 16.8
-5.4 16.7
-2.3 20.2
3.2 21.4
4.9 17.9
4.3 16.9
-.7 15.4
.4 14.5
-30.9 14.8
-29.4 13.7
-26.9 13.4
-8 12.1
-3 11.7
-.55 11.7
-12.1 10.6
8.5 11
7.5 8.8
-23.8 9.4
-20.1 9
-16.7 9.1
-18.1 7.8
-16.3 7.5
-31.7 5.3
-24.5 3.4
-30.8 2
-7.7 1.3
-21.9 -.4
-22 -.6
-20.5 -.9
-24.8 -1.1
-25.2 -2
-22.7 -1.9
-18.1 -1.5
-21.6 -3.2
-36 -6.3
-29.4 -6
-27.9 -5.5
-29.4 -6.8
-23.5 -6.3
-20.7 -7.8
-11.4 -7.6
-36.5 -8
-33.9 -9.3
-32.7 -10.1
-23.7 -8.9
-20.2 -10
-28.6 -11.2
-32 -11.7
-27.4 -12.8
-14.8 -14.1
-33.4 -15
-29 -17.5
-38.1 -22.5
-36.5 -31.8
-38.3 -31.3
-36.1 -32.9
-25.1 -26
-35.3 -27.9
-22.3 -25.1
-21.3 -25.8
-20.9 -24.4
-20.9 -27.5
-58.9 -.8
-55.7 -.3
-60.6 -1.5
-58.1 -1.8
-64.4 -3.2
-61.9 -3
-56.2 -3.6
-60.7 -6.6
-50.8 -3.3
-47.5 -6.1
-45.7 -1.7
-43.2 -.2
-39.6 -1.8
-52.5 -9
-60.4 -10.1
-52.3 -11.7
-43.8 -12.5
-39.2 -11.4
-45.8 -15.7
-43.6 -17.1
-43.3 -18.1
-51.9 -16.5
-55.4 -16.4
-46.8 -23.1
-45.4 -24.4
-55.6 -25
-53.9 -25
-50.2 -25
-40.9 -29.6
-43.2 -32
-39.5 -30.4
-38.4 -31.3
-39.3 -27.3
-38.3 -22.5
-43.7 -29.5
};\addlegendentry{A13}
\addplot[pts=cA14] table {
x y
-37.6 28.9
-38.3 28.1
-36.5 28.1
-43 21.2
-36.9 23
-36.2 23.6
-38.1 19
-37 16
-41.2 15.4
-38.3 14.6
-38.8 16.6
-59.7 14
-57.1 13.5
-40.5 11.8
-41.5 11.2
-38.4 9.3
-61.1 8.2
-50.2 7.7
-34.6 8.2
-58.8 6.6
-65.1 6
-65.9 5.4
-63.5 4.4
-54.6 5.4
-53.5 5.1
-46.1 5.8
-63.7 2.2
-42.2 2.5
-39.9 2.2
-38.6 1.2
-36.8 .9
-47 0
-46 -.3
-53.3 -.1
-47 1.1
-13 28.5
-25.9 28.4
-27.2 31
-23.3 24.5
-27.3 23.8
-22.7 22
-21.2 22
-23.8 21.9
-28.4 20.8
-17.7 19
-26 16.2
-9.1 14.4
-18.9 14.7
-19.2 13.1
-26.8 12.4
-21.2 13.1
-1.5 14.1
.6 12.5
-2.4 12.3
-5.7 11.4
-15.5 11.5
2.95 10.7
-22.8 8.8
-29.5 9.8
-29.7 8.5
-22.4 7.9
-6.8 7.5
-34.5 8.2
-12.3 6.3
3.4 5.9
-27.6 5.9
-16.6 5.8
-26.6 4.7
-23.9 4.8
-25.6 3.9
-.6 4
3.5 4
-26.1 3.1
-23.3 3.2
-22.3 3.5
-23.9 1.9
-13.8 2.5
-4.5 3
-16.9 1.5
-23.7 -1.7
-16.3 -4
-17.2 -4.7
-10.7 -3
-9.4 -3.5
-31.9 -3.7
-34.6 -4.9
-32.7 -5.5
-17.1 -6
-15.8 -5.9
-13.7 -6.6
-15.2 -7.2
-13.1 -6.9
-17.3 -6.8
-14.2 -7.5
-19.1 -7.6
-17.4 -7.9
-15.7 -8
-15.4 -8.8
-34.4 -8.2
-36.6 -8.9
-35.4 -9.4
-26.9 -8.7
-23.6 -9.7
-18.5 -11.4
-11.4 -10.7
-32.9 -12.6
-30 -12.5
-32.6 -13.6
-30.4 -13.5
-25.9 -13.8
-36.9 -15.6
-30.5 -16.1
-23.2 -20.4
-36.9 -20.5
-35.9 -23.3
-34.1 -24
-36.1 -24.7
-24 -24.4
-27.2 -26.3
-22.9 -27.6
-15.5 -25.1
-53.4 -.2
-55.5 -2.4
-55.4 -3
-51.2 -2
-47 -.1
-46 -.3
-45.3 -3.3
-49.5 -5.5
-45.9 -9
-40.1 -9.4
-52.9 -14.7
-48.9 -13.8
-45.5 -14.8
-40.9 -14.2
-41.1 -16.4
-49.1 -15.6
-41.3 -19.1
-41.7 -19.9
-45 -23
-44.2 -25
-44.3 -25.6
-39.7 -24.3
-40.2 -25
-39.2 -26.3
-54.3 -21
-42.6 -2.1
15.1 -21.8
};\addlegendentry{A14}
\addplot[pts=cA15] table {
x y
-46.1 32
-48.3 22.4
-54.5 22.2
-42.7 22
-40.3 22.5
-38.7 22.8
-33.7 22.2
-33.2 24.9
-52.6 18.2
-46.9 18.7
-43.7 17.2
-43 16.6
-44.4 15.9
-46.8 16.1
-45.4 15.3
-47.7 15
-39.2 16.3
-34.8 15.4
-42.5 13.7
-63.9 10.4
-61.1 11
-47.7 10
-47.8 9.2
-63.3 8.3
-58.7 7
-33.8 11
-43 7.8
-37 7.6
-49.9 5.8
-41.3 6
-46.2 5.3
-47.8 4.7
-46.7 4.6
-64.3 4.5
-65 3.9
-58.7 4.8
-55.9 5
-57.9 3.9
-38.3 4
-34.9 4
-33.4 5.7
-43.5 3.5
-42.5 3
-49.6 3.2
-65.5 2.9
-44.5 2.5
-39.4 2
-38.8 2.2
-46.6 .5
-45.7 .5
-50.4 .1
-40.3 .5
-23.8 32.5
-14.9 23.4
-32.9 24.9
-32.3 23.6
-30.5 23.6
-30.2 22.7
-33.8 22.2
-32.4 21.2
-24.7 21.7
-29.3 20.4
-30.4 20.1
-29.1 19.6
-27.5 19.8
-22.1 20.3
-30.7 16.3
-24.9 16.6
-34.6 15.4
-27.6 14.9
-27.3 13.9
-25.7 14
-21.2 13.5
-28 12.8
-30.4 12
-32.2 11.4
-30.6 11.2
-33.8 11
-25.8 10.7
-13.7 12.1
.2 17.8
-1.9 15.3
-1.9 14.5
-7.7 15.4
-5.9 16
-.5 11.3
-24.2 9.9
-20.5 9.9
-31.2 9.5
-30.1 9.3
-26.3 7.9
-25 7.8
-23.9 7.5
-32.3 7.5
-30.1 6.7
-26.4 6.2
-24.5 6.1
-23.1 6.1
-19.3 6.4
-26.1 5.8
-28.5 5.5
-18.9 5.8
-33 5.7
-14.4 6
-14.9 5.1
-20.2 5.4
-32.1 3.7
-34.7 4
-10.3 2.2
-1.4 1.4
4.8 8.9
-10.5 .2
-27.1 .2
-18.4 0
-32.4 -.8
-27.4 -.4
-27.1 0
-33.8 -2.7
-35.9 -3.1
-19.9 -3.3
-35.1 -5.8
-27 -6
-33.1 -7.1
-34 -7.7
-38.3 -7.9
-35.7 -8.3
-34.9 -9.4
-22.7 -9.2
-23.2 -11.7
-28.7 -13.4
-23.6 -13.1
-22.8 -13.6
-24.4 -14
-37.8 -14.2
-37.2 -16.6
-15.9 -16.6
-38.6 -17.5
-33.4 -19.9
-23.3 -20.9
-36.1 -24
-37.9 -24.8
-24.7 -24.8
-20.8 -30.2
-20 -30
-38.8 -33
-50.5 -.1
-50.8 -2.5
-45.6 -2.5
-39.6 -2.6
-39.7 -4.1
-40.8 -4.9
-39.2 -6.6
-44.9 -6.4
-46 -7
-38.4 -7.9
-39 -8.3
-42.4 -8.4
-40.8 -8.8
-41.9 -9.5
-42.6 -10
-50 -9
-46.4 -9.6
-46.5 -10.1
-44.8 -14.7
-38 -14.2
-53.5 -17.3
-46.1 -16.4
-38.9 -17.5
-40.1 -18.9
-52.1 -19.1
-53.5 -19.5
-54.2 -20.3
-49.1 -19.8
-47.5 -20.5
-51.9 -22
-54.6 -25.2
-40.3 -25.5
-39 -25.3
-38.1 -24.8
-41.2 -27.6
-42.2 -29.6
-38.9 -33
};\addlegendentry{A15}
\addplot[pts=cA16] table {
x y
-41.5 31.1
-50.6 30.1
-34.8 30
-46.4 27.5
-42 24.8
-35.5 23.9
-38 23.3
-34.7 22.5
-53.4 21
-36.6 20.5
-36.6 21.1
-33.7 18.8
-43.2 19.5
-36.8 17.7
-33.8 17.3
-34.3 14.6
-34.9 13.6
-47.8 12.5
-47.1 11
-38.4 11.2
-40.5 10.3
-34.7 10.3
-33.8 9.6
-43.8 8.5
-37.8 8.2
-38.8 7.5
-60.6 6.8
-33.5 8.1
-65 3
-48 1.8
-44.4 1.9
-38.3 .4
-35.3 -.3
-31.8 28.2
-27.7 28.4
-27.2 28.7
-30.5 26
-22.8 26.3
-31 22.8
-33.7 17.4
-29.5 15.5
-28.4 14.7
-26.5 14.5
-15 13.2
-8.5 16.9
-4.5 16.1
-4 18.8
-2 17.9
-2 17.1
2.1 16.6
9.1 19.1
9.2 17.7
7.9 16.2
5.4 15.1
6.6 13.9
6.1 13.5
4.7 13.8
-3.2 14.3
-5 14.3
-.7 12.9
4.05 12.1
5.6 12.2
5.6 11
4.05 10.3
-.8 10.4
.8 9.7
-4.6 8.7
-.4 8.3
4.5 7.1
2 4.8
4.1 3.1
4.3 1.9
5.4 2.2
-27.5 8
-20.4 7.5
-22 7.1
-18.5 6.9
-22.2 6.3
-13.3 4.8
-19.7 4.7
-15 3
-10.6 3.5
-23.5 2.6
-21.2 2.3
-22.6 2.1
-23.1 .9
-13.9 0
-22.7 .3
3.4 .2
-.9 -.5
3.3 .1
4.05 -.5
-1 -.6
-5.8 -2
-6.8 -3.25
.55 -3.8
3.35 -3.3
-7 -5.8
7.85 -4.5
-9.3 -7
5.4 -6
-2.7 -7.9
-2.8 -8.3
-12.7 -9.5
2.9 -11
-13.7 -12.3
-10.9 -13.5
7.75 -13.8
-5.5 -18.25
-13.65 -25.1
-35.3 -.4
-37.3 -.8
-38.2 -1.9
-35.4 -2
-31.4 -2.2
-29.9 -2.8
-28.3 -1.9
-28.6 -3.2
-28 -3.3
-37.2 -3.1
-37.6 -4
-33.5 -4.7
-31 -4.6
-29.4 -4.7
-33.6 -6.2
-35 -7.2
-31.4 -7.3
-25.4 -7.1
-22.4 -7.1
-15.4 -2.2
-14.8 -2.8
-19.6 -4.8
-18 -9
-37.6 -12.4
-25.2 -12.3
-26.2 -13
-24.5 -11.6
-17.1 -10.7
-14.7 -10.3
-12.8 -9.5
-13.9 -12.3
-34.5 -15.3
-20 -15.3
-38.1 -15.6
-32.6 -19.6
-37.2 -20
-33.6 -20.9
-28.7 -21.5
-18.5 -22.8
-16.3 -20.8
-31.3 -23.8
-15.8 -24.1
-13.8 -25.1
-32.9 -25.7
-33.1 -26.8
-31.3 -27.2
-34.4 -27.8
-27.8 -26.5
-38.4 -26.5
-18.8 -30.3
-25.9 -34.8
-65.1 -4.1
-63.3 -8.4
-58.6 -14.3
-56.6 -14.3
-56.7 -16.7
-57.2 -18.3
-55.8 -8
-54.9 -3.9
-45.1 -4
-42.4 -2.6
-38.4 -2
-39 -5.1
-41.5 -6.5
-44.2 -7
-44.9 -8
-40.6 -8
-47.3 -9.1
-51.8 -13.2
-49 -16
-49.1 -16.5
-52.9 -17.8
-54.5 -18.9
-53.4 -18.8
-49.4 -18.3
-49.4 -19
-45.4 -19.7
-41 -19.5
-49.9 -22
-51.9 -22.7
-57.6 -22.5
-42.7 -26.4
-38.4 -26.5
-38.9 -28.6
-46.1 -31.7
-38.2 -15.7
-37.8 -12.4
4.05 -36.6
8.4 -40.1
15.9 -45.1
16.8 -13.5
24.1 -15.7
};\addlegendentry{A16}
\addplot[pts=cA17] table {
x y
30.4 32.4
37.4 31.5
38 31.1
41.1 31.5
33.6 31
34.8 30.7
35.7 30.5
33.8 30.2
30.7 29.9
33.1 29.6
37.6 30
39.7 29.4
28.8 28.8
33.6 28.5
32.5 27.8
46.1 29.7
44.6 29
45.6 29
52.9 30.3
51.3 29.6
54.1 28.6
58.6 28.6
27.8 27
24 26.7
23.2 26
24.3 25.7
30 25.5
42.7 26.1
25 22.9
24.9 22.2
24.3 22
23.6 21.6
19.8 22
25.4 21
20.1 20.6
21.4 18.9
20.5 18.2
35.4 19.1
38 18.9
43.5 19.1
41.2 17.5
29.6 16.8
31.3 17
39.3 14.9
30.5 13.5
30.9 12.8
28.4 12.1
19.5 12
32.6 12
32.6 11.3
34.9 11.4
42.7 10.6
55.9 11.8
50.7 10
51.3 10
46 8.3
27.3 8.4
20.2 6.8
21.1 6.8
22.9 6.5
25.6 7
25.3 5.4
21.2 5
23.1 4.8
60.9 6.9
15 3.2
17.1 2.9
18.6 2.4
19.4 2.1
23.3 1.8
39.3 3.2
38.7 3
41.9 2
42.9 1.8
29.1 1.7
30.3 1.7
36.4 0
41.5 -.2
49.6 -.55
44.3 -.74
47.1 -.8
51.2 -.55
38.5 -2.1
15.3 -2
19.4 -2.2
29.7 -2.5
31.9 -3.1
50.6 -2.1
51.5 -3.2
24.6 -2.9
18 -3.4
17.4 -3.5
21.9 -3.4
20.6 -3.8
14.9 -4.3
22 -5.2
23.5 -5.2
26.4 -5.7
16.9 -5.5
15.4 -6.1
18.6 -6.4
20 -7.9
44.2 -5.6
33.6 -7.3
48 -7.4
46.8 -7.9
17.8 -9.5
40.5 -9.1
47.1 -9.1
20.2 -11.3
17.6 -11.9
38.9 -11.7
21.6 -14.3
24.6 -14.4
40.2 -14.3
30.5 -15.4
48.4 -15.4
38.9 -15.7
40 -15.9
38.5 -16.4
40.1 -16.7
28.2 -15.9
28.2 -16.6
25.3 -16.4
30.9 -17.1
16.3 -17.5
22 -17.8
25.3 -18.1
26.1 -18
36.6 -18.1
44.2 -17.9
36.1 -18.7
17.4 -18.5
18 -19
31.6 -18.7
41.4 -19.1
16.5 -20.1
28.3 -20.3
36.1 -20.8
37.5 -21
35.5 -21.5
36.4 -21.6
23.1 -21.1
25.3 -21.6
29.5 -21.6
28 -21.7
28.3 -22.4
17.4 -22.1
25.6 -22.9
25 -23.4
27.4 -24.2
24 -24.6
29.5 -24.9
30.1 -24.5
30.3 -27.1
-51.5 16.6
-36.2 29
-36.5 6.9
-20.2 11.8
2.05 14.6
2.6 14.3
9.8 16.3
9.7 16.7
9.4 14.5
11.9 12.9
12.9 2.6
8.2 2.3
2.9 2.4
2.15 8.1
12 5.1
11.2 .4
4.1 -.2
7.05 -2
8 -1.8
10.4 -.6
11.3 -.5
15.4 -2
14.3 -2.8
11.1 -3
14.9 -4.2
8.8 -4.5
11.1 -5.2
15.4 -6.1
13.7 -7.8
11.5 -10.3
8.3 -11.6
16.1 -17.4
16.1 -20.1
};\addlegendentry{A17}
\end{axis}
\end{tikzpicture}
\end{document}
